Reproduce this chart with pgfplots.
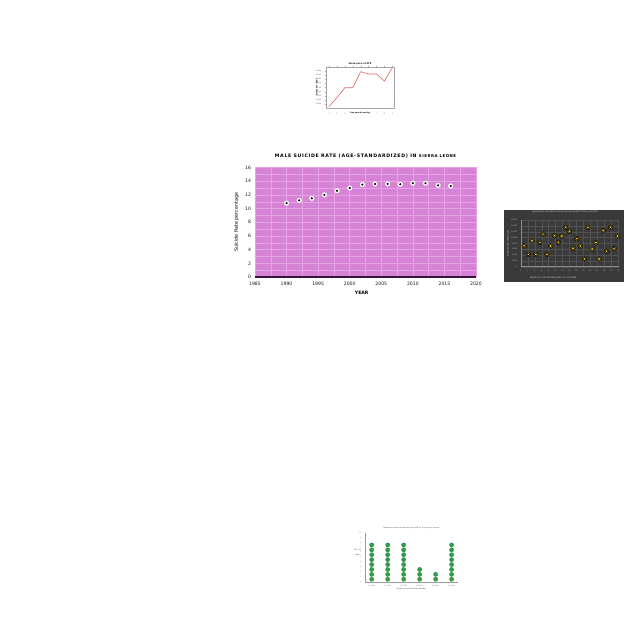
\documentclass[border=0pt]{standalone}
\usepackage{pgfplots}
\pgfplotsset{compat=1.18}
\usepackage{pgfplotstable}
\usepackage{fontspec}
\setmainfont{DejaVu Sans}
\newfontfamily\titlefont[LetterSpace=14]{DejaVu Sans}
\pgfplotsset{/pgf/number format/assume math mode=true}
\definecolor{bgpink}{RGB}{214,131,214}
\definecolor{gridpink}{RGB}{229,163,229}
\definecolor{darkline}{RGB}{55,20,55}
\definecolor{darkbg}{RGB}{58,58,58}
\definecolor{dotyellow}{RGB}{255,215,40}
\definecolor{dotring}{RGB}{150,130,50}
\definecolor{dotgreen}{RGB}{46,160,72}
\definecolor{linered}{RGB}{222,100,100}

\pgfplotstableread{
year rate
1990 10.8
1992 11.2
1994 11.5
1996 12.0
1998 12.6
2000 13.0
2002 13.5
2004 13.6
2006 13.6
2008 13.55
2010 13.7
2012 13.7
2014 13.4
2016 13.3
}\maledata

\pgfplotstableread{
x y
1 103.8
2 126.0
3 149.5
4 149.5
5 188.0
6 182.5
7 182.5
8 165.6
9 197.6
}\stockdata

\pgfplotstableread{
w v
1.0 7200
2.2 4230
3.2 8900
4.35 4230
5.5 8340
6.4 11200
7.5 4230
8.6 7090
9.7 10630
10.8 8340
11.8 10510
12.9 13490
14.0 12110
15.0 6290
16.1 9600
17.1 7090
18.3 2630
19.3 13490
20.5 6060
21.6 8230
22.5 2630
23.7 12340
24.6 5260
25.8 13490
26.8 6170
27.8 10510
}\loandata

\pgfplotstableread{
c d
1 0.5
1 1.5
1 2.5
1 3.5
1 4.5
1 5.5
1 6.5
1 7.5
2 0.5
2 1.5
2 2.5
2 3.5
2 4.5
2 5.5
2 6.5
2 7.5
3 0.5
3 1.5
3 2.5
3 3.5
3 4.5
3 5.5
3 6.5
3 7.5
4 0.5
4 1.5
4 2.5
5 0.5
5 1.5
6 0.5
6 1.5
6 2.5
6 3.5
6 4.5
6 5.5
6 6.5
6 7.5
}\daysdata

\begin{document}
\begin{tikzpicture}[x=1pt,y=1pt]
\fill[white] (0,0) rectangle (640,640);
\path[use as bounding box] (0,0) rectangle (640,640);

% ---------------- main chart ----------------
\begin{axis}[
  at={(255pt,363pt)}, anchor=south west,
  scale only axis, width=221pt, height=109.5pt,
  xmin=1985, xmax=2020, ymin=0, ymax=16,
  xtick={1985,1990,...,2020}, ytick={0,2,...,16},
  minor x tick num=1, minor y tick num=1,
  axis background/.style={fill=bgpink},
  grid=both,
  major grid style={draw=gridpink, line width=0.45pt},
  minor grid style={draw=gridpink, line width=0.35pt},
  axis x line*=bottom, axis y line*=left,
  x axis line style={-, draw=darkline, line width=1.1pt},
  y axis line style={draw=none},
  tick style={draw=none},
  xticklabel style={/pgf/number format/1000 sep={}},
  ticklabel style={font=\fontsize{4.6}{5}\selectfont, text=black!90},
  xticklabel shift=1.5pt, yticklabel shift=0.5pt,
  xlabel={\bfseries YEAR},
  xlabel style={at={(axis description cs:0.483,-0.143)}, anchor=center, font=\fontsize{4.6}{5}\selectfont},
  ylabel={Suicide Rate percentage},
  ylabel style={at={(axis description cs:-0.083,0.5)}, anchor=center, font=\fontsize{4.8}{5}\selectfont},
  title={\titlefont\bfseries MALE SUICIDE RATE (AGE-STANDARDIZED) IN {\fontsize{3.9}{4}\selectfont SIERRA LEONE}},
  title style={at={(axis description cs:0.5,1.105)}, anchor=center, yshift=-6pt, font=\fontsize{4.7}{5}\selectfont},
  clip=false,
]
\addplot[only marks, mark=*, mark size=2.3pt, mark options={fill=white, draw=white}] table[x=year,y=rate] {\maledata};
\addplot[only marks, mark=*, mark size=0.85pt, mark options={fill=black, draw=black}] table[x=year,y=rate] {\maledata};
\end{axis}

% ---------------- small top line chart ----------------
\begin{axis}[
  at={(325.7pt,531.7pt)}, anchor=south west,
  scale only axis, width=68.6pt, height=41.6pt,
  xmin=0.58, xmax=9.25, ymin=100, ymax=200,
  xtick={1,...,9}, ytick={110,120,...,190},
  axis line style={draw=black!35, line width=0.3pt},
  tick style={draw=black!35, line width=0.2pt}, tick align=outside, major tick length=1pt,
  ticklabel style={font=\fontsize{1.6}{2}\selectfont, text=black!70},
  yticklabel style={/pgf/number format/.cd, fixed, precision=2, fixed zerofill},
  title={\bfseries Stock price of XYZ},
  title style={at={(axis description cs:0.5,1.06)}, anchor=center, yshift=-6pt, font=\fontsize{2.2}{2.5}\selectfont},
  xlabel={\bfseries Time period (months)},
  xlabel style={at={(axis description cs:0.5,-0.12)}, anchor=center, font=\fontsize{1.7}{2}\selectfont},
  ylabel={\bfseries Stock price (USD)},
  ylabel style={at={(axis description cs:-0.13,0.5)}, anchor=center, font=\fontsize{1.7}{2}\selectfont},
]
\addplot[linered, line width=0.6pt] table[x=x,y=y] {\stockdata};
\end{axis}

% ---------------- right dark scatter ----------------
\fill[darkbg] (504,358) rectangle (624,430);
\begin{axis}[
  at={(520.7pt,373.3pt)}, anchor=south west,
  scale only axis, width=98.6pt, height=46.7pt,
  xmin=0, xmax=28.3, ymin=0, ymax=16000,
  xtick={0,2,...,28}, ytick={0,2000,...,16000},
  scaled y ticks=false,
  axis x line*=bottom, axis y line*=left,
  axis line style={-, draw=black!45, line width=0.4pt},
  grid=major, major grid style={draw=white!12!darkbg, line width=0.2pt},
  tick style={draw=none},
  ticklabel style={font=\fontsize{1.9}{2}\selectfont, text=black!30},
  yticklabel style={/pgf/number format/1000 sep={}},
  title={Agricultural loan sales during the second half of the year 2015},
  title style={at={(axis description cs:0.45,1.17)}, anchor=center, yshift=-6pt, font=\fontsize{2.1}{2.5}\selectfont, text=black!15},
  xlabel={WEEKS OF THE SECOND HALF OF THE YEAR},
  xlabel style={at={(axis description cs:0.33,-0.24)}, anchor=center, font=\fontsize{2.1}{2.5}\selectfont, text=black!20},
  ylabel={AGRICULTURAL LOAN SALES},
  ylabel style={at={(axis description cs:-0.13,0.5)}, anchor=center, font=\fontsize{1.9}{2}\selectfont, text=black!20},
]
\addplot[only marks, mark=*, mark size=2.4pt, mark options={fill=dotring, draw=none, fill opacity=0.85}] table[x=w,y=v] {\loandata};
\addplot[only marks, mark=*, mark size=1.5pt, mark options={fill=dotyellow, draw=none}] table[x=w,y=v] {\loandata};
\end{axis}

% ---------------- bottom green dot chart ----------------
\begin{axis}[
  at={(365pt,58.3pt)}, anchor=south west,
  scale only axis, width=93pt, height=49pt,
  xmin=0.58, xmax=6.4, ymin=0, ymax=10,
  xtick={1,...,6}, ytick={0,1,...,10},
  xticklabels={ID 1098,ID 1145,ID 1156,ID 8213,ID 9568,ID 1598},
  axis x line*=bottom, axis y line*=left,
  axis line style={-, draw=black!40, line width=0.3pt},
  tick style={draw=none},
  ticklabel style={font=\fontsize{1.6}{2}\selectfont, text=black!60},
  title={Number of days staff attend (log staff) for ID range of months},
  title style={at={(axis description cs:0.5,1.1)}, anchor=center, yshift=-6pt, font=\fontsize{1.8}{2}\selectfont, text=black!70},
  xlabel={Employee Identification Number},
  xlabel style={at={(axis description cs:0.5,-0.15)}, anchor=center, font=\fontsize{1.8}{2}\selectfont, text=black!70},
  ylabel={\shortstack{No. of\\days}},
  ylabel style={at={(axis description cs:-0.08,0.6)}, anchor=center, rotate=-90, font=\fontsize{1.9}{2}\selectfont, text=black!70},
]
\addplot[only marks, mark=*, mark size=2.15pt, mark options={fill=dotgreen, draw=dotgreen!70!black, line width=0.2pt}] table[x=c,y=d] {\daysdata};
\end{axis}
\end{tikzpicture}
\end{document}
